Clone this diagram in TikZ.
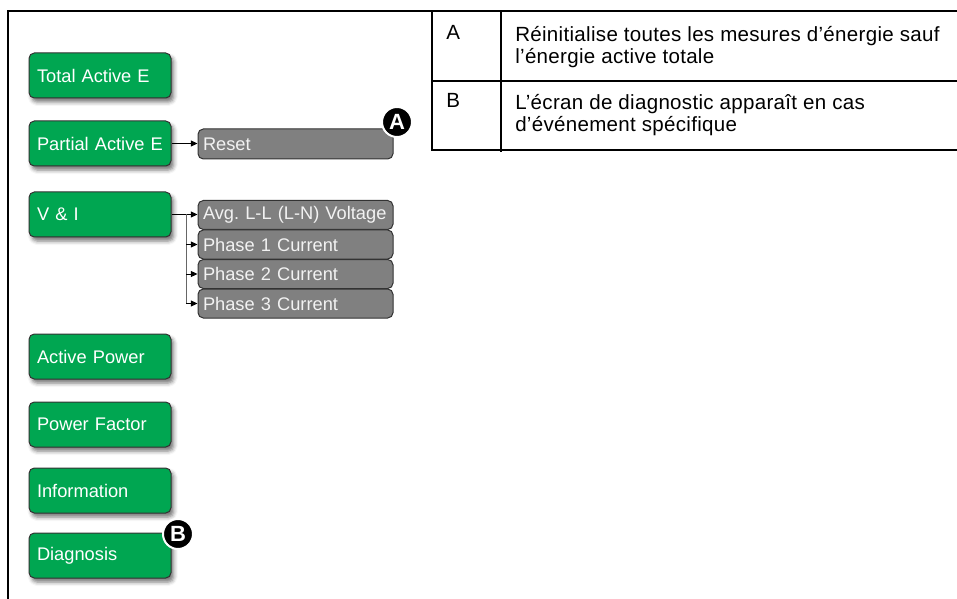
\documentclass[tikz,border=0pt]{standalone}
\usepackage{fontspec}
\setmainfont{Liberation Sans}
\newfontfamily\tablefont[LetterSpace=1.5]{Liberation Sans}
\usetikzlibrary{arrows.meta,shadows.blur}
\definecolor{pmgreen}{HTML}{00A651}
\definecolor{pmgrey}{HTML}{808080}
\definecolor{pmedge}{HTML}{333333}
\tikzset{
  menubox/.style={draw=pmedge, fill=pmgreen, line width=0.75pt, rounded corners=4pt,
    minimum height=33.75pt, text width=94.5pt, inner xsep=6pt, inner ysep=1pt, align=left,
    text=white, font=\fontsize{13.7}{16}\selectfont,
    blur shadow={shadow xshift=2pt, shadow yshift=-3pt, shadow blur radius=3pt, shadow opacity=55}},
  subbox/.style={draw=pmedge, fill=pmgrey, line width=0.75pt, rounded corners=4pt,
    minimum height=21.75pt, text width=138.75pt, inner xsep=3.75pt, inner ysep=1pt, align=left,
    text=white!95!black, font=\fontsize{13.7}{16}\selectfont},
  link/.style={-{Triangle[length=5pt,width=4.5pt]}, line width=0.75pt, black},
  badge/.style={circle, fill=black, draw=white, line width=1.5pt, minimum size=22.5pt,
    inner sep=0pt, text=white, font=\bfseries\fontsize{16.5}{16.5}\selectfont},
  frame/.style={line width=1.5pt, black},
  celltext/.style={anchor=north west, inner sep=0pt, align=left,
    font=\tablefont\fontsize{15.4}{16.5}\selectfont},
}

\begin{document}
\begin{tikzpicture}[x=0.75pt,y=-0.75pt]
    \useasboundingbox (0,0) rectangle (957,599);
    % frame and legend table
    \draw[frame] (8,599) -- (8,11) -- (957,11);
    \draw[frame] (432,11) -- (432,150) -- (957,150);
    \draw[frame] (432,81.5) -- (957,81.5);
    \draw[frame] (501,11) -- (501,152);
    \node[celltext, anchor=base west] (keyA) at (446,40) {A};
    \node[celltext, anchor=base west] (keyB) at (446,108) {B};
    \node[celltext] (descA) at (515,26) {Réinitialise toutes les mesures d’énergie sauf\\l’énergie active totale};
    \node[celltext] (descB) at (515,94) {L’écran de diagnostic apparaît en cas\\d’événement spécifique};
    % menu
    \node[menubox] (total) at (100,75.5) {Total Active E};
    \node[menubox] (partial) at (100,143.5) {Partial Active E};
    \node[menubox] (vi) at (100,214.5) {V \& I};
    \node[menubox] (power) at (100,356.5) {Active Power};
    \node[menubox] (pf) at (100,424.5) {Power Factor};
    \node[menubox] (info) at (100,490.5) {Information};
    \node[menubox] (diag) at (100,555.5) {Diagnosis};
    % sub menus
    \node[subbox, minimum height=22.5pt] (reset) at (295.5,144) {Reset};
    \node[subbox] (avg) at (295.5,215) {Avg.\ L-L (L-N) Voltage};
    \node[subbox] (ph1) at (295.5,244.5) {Phase 1 Current};
    \node[subbox] (ph2) at (295.5,274) {Phase 2 Current};
    \node[subbox] (ph3) at (295.5,303.5) {Phase 3 Current};
    \draw[link] (partial.east) -- (partial.east -| reset.west);
    \draw[link] (vi.east) -- (vi.east -| avg.west);
    \coordinate (fork) at (186,214.5);
    \draw[line width=0.75pt, black!60] (fork) -- (fork |- ph3.west);
    \foreach \n in {ph1,ph2,ph3}
        \draw[link] (fork |- \n.west) -- (\n.west);
    % callouts
    \node[badge] (markA) at (397,122) {A};
    \node[badge] (markB) at (178,534) {B};
\end{tikzpicture}
\end{document}
